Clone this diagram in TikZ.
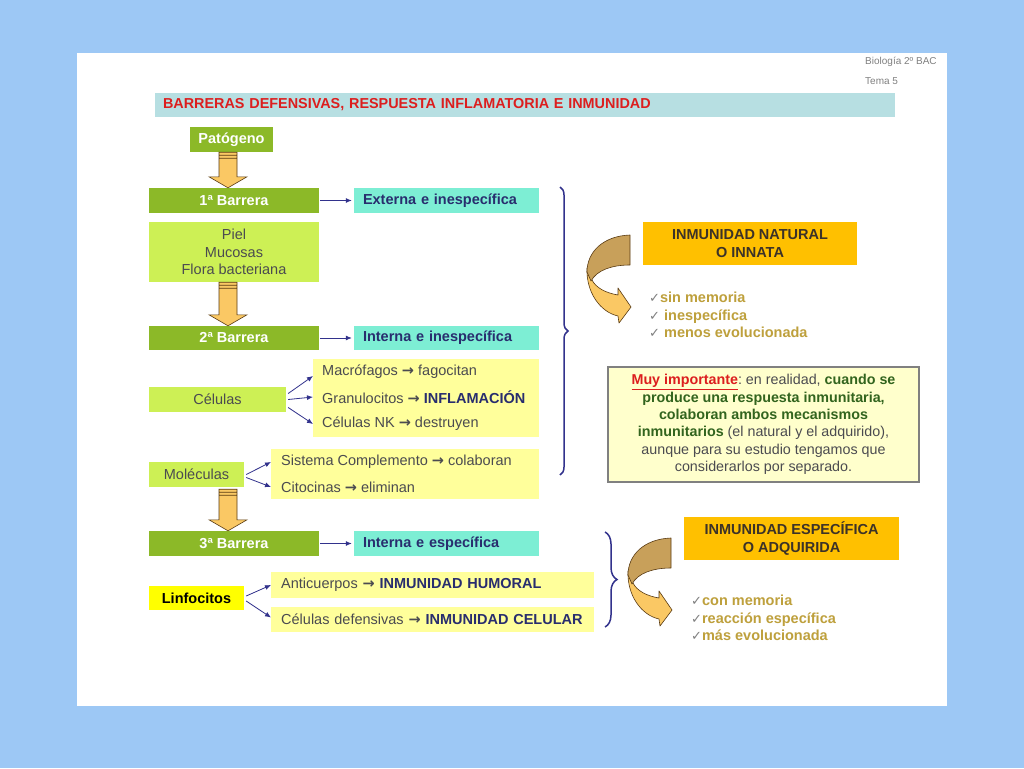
\documentclass[tikz,border=0pt]{standalone}
\usepackage{fontspec}
\setmainfont{Liberation Sans}
\newfontfamily\symfont{DejaVu Sans}
\usetikzlibrary{arrows.meta,decorations.pathreplacing,calc}

\definecolor{bgblue}{RGB}{157,200,245}
\definecolor{titlebg}{RGB}{183,223,226}
\definecolor{titlered}{RGB}{220,30,30}
\definecolor{grndark}{RGB}{140,185,40}
\definecolor{grnlight}{RGB}{205,240,85}
\definecolor{aqua}{RGB}{125,238,212}
\definecolor{navy}{RGB}{40,45,110}
\definecolor{txtgray}{RGB}{75,75,80}
\definecolor{paleyel}{RGB}{255,255,155}
\definecolor{brightyel}{RGB}{255,255,0}
\definecolor{gold}{RGB}{255,192,0}
\definecolor{chktxt}{RGB}{190,160,60}
\definecolor{connblue}{RGB}{50,50,140}
\definecolor{curllight}{RGB}{250,200,100}
\definecolor{curldark}{RGB}{200,160,90}
\definecolor{curlline}{RGB}{90,60,20}
\definecolor{notebg}{RGB}{255,255,204}
\definecolor{notegreen}{RGB}{50,100,30}

\newcommand{\txt}{\fontsize{14.5}{17.5}\selectfont}
\newcommand{\ra}{{\symfont\bfseries →}}
\newcommand{\chk}{{\symfont\color{gray}\fontsize{13}{13}\selectfont ✓}}

% block arrow between two boxes
\newcommand{\bigarrow}[2]{%
  \draw[bigarrowstyle] let \p1=(#1), \p2=(#2) in
    (\x1-9pt,\y1) -- (\x1+9pt,\y1) -- (\x1+9pt,\y2+11pt) -- (\x1+19pt,\y2+11pt)
    -- (\x1,\y2) -- (\x1-19pt,\y2+11pt) -- (\x1-9pt,\y2+11pt) -- cycle
    (\x1-9pt,\y1-3pt) -- (\x1+9pt,\y1-3pt)
    (\x1-9pt,\y1-6pt) -- (\x1+9pt,\y1-6pt);
}

\begin{document}
\begin{tikzpicture}[x=1pt,y=-1pt,
    box/.style={inner sep=0pt, minimum height=25, font=\txt, text=txtgray},
    barrier/.style={box, fill=grndark, text=white, font=\txt\bfseries, minimum width=170},
    kind/.style={box, fill=aqua, text=navy, font=\txt\bfseries, text width=167, inner xsep=9, align=left},
    light/.style={box, fill=grnlight},
    yelbox/.style={box, fill=paleyel},
    item/.style={anchor=west, inner xsep=9, inner ysep=0, font=\txt, text=txtgray},
    gold box/.style={box, fill=gold, minimum width=214, minimum height=43, align=center, font=\txt\bfseries, text={rgb,255:red,60;green,50;blue,40}},
    checks/.style={anchor=base west, inner sep=0, font=\txt\bfseries, text=chktxt},
    conn/.style={draw=connblue, line width=0.8, -{Latex[length=6,width=5]}},
    bigarrowstyle/.style={fill=curllight, draw=curlline, line width=0.6},
    curl/.style={draw=curlline, line width=0.6, line join=round},
    bracestyle/.style={draw=connblue, line width=1.5, decorate},
  ]
  \useasboundingbox (0,0) rectangle (1024,768);
  \fill[bgblue] (0,0) rectangle (1024,768);
  \fill[white] (77,53) rectangle (947,706);

  % header
  \node[anchor=west, inner sep=0, font=\fontsize{10}{11}\selectfont, text=gray] (bio) at (865,62) {Biología 2º BAC};
  \node[anchor=west, inner sep=0, font=\fontsize{10}{11}\selectfont, text=gray] (tema) at (865,81) {Tema 5};
  \node[box, fill=titlebg, text=titlered, font=\fontsize{14.4}{17}\selectfont\bfseries, minimum height=24, text width=724, inner xsep=8, align=left] (title) at (525,105) {BARRERAS DEFENSIVAS, RESPUESTA INFLAMATORIA E INMUNIDAD};

  % left column
  \node[barrier, minimum width=83] (pat) at (231.5,139.5) {Patógeno};
  \node[barrier] (b1) at (234,200.5) {1ª Barrera};
  \node[kind] (ext) at (446.5,200.5) {Externa e inespecífica};
  \node[light, minimum width=170, minimum height=60, align=center] (piel) at (234,252) {Piel\\Mucosas\\Flora bacteriana};
  \node[barrier, minimum height=24] (b2) at (234,338) {2ª Barrera};
  \node[kind, minimum height=24] (int1) at (446.5,338) {Interna e inespecífica};

  \node[yelbox, minimum width=226, minimum height=78] (celgroup) at (426,398) {};
  \node[light, minimum width=137] (cel) at (217.5,399.5) {Células};
  \node[item] (mac) at (313,372) {Macrófagos \ra\ fagocitan};
  \node[item] (gran) at (313,397) {Granulocitos \ra\ \textbf{\color{navy}INFLAMACIÓN}};
  \node[item] (nk) at (313,424) {Células NK \ra\ destruyen};

  \node[yelbox, minimum width=268, minimum height=50] (molgroup) at (405,474) {};
  \node[light, minimum width=95] (mol) at (196.5,474.5) {Moléculas};
  \node[item, inner xsep=10] (compl) at (271,462) {Sistema Complemento \ra\ colaboran};
  \node[item, inner xsep=10] (cito) at (271,487) {Citocinas \ra\ eliminan};

  \node[barrier] (b3) at (234,543.5) {3ª Barrera};
  \node[kind] (int2) at (446.5,543.5) {Interna e específica};
  \node[box, fill=brightyel, text=black, font=\txt\bfseries, minimum width=95, minimum height=24] (linf) at (196.5,598) {Linfocitos};
  \node[yelbox, anchor=west, text width=303, inner xsep=10, align=left, minimum height=26] (anti) at (271,585) {Anticuerpos \ra\ \textbf{\color{navy}INMUNIDAD HUMORAL}};
  \node[yelbox, anchor=west, text width=303, inner xsep=10, align=left] (celdef) at (271,619.5) {Células defensivas \ra\ \textbf{\color{navy}INMUNIDAD CELULAR}};

  % block arrows
  \bigarrow{[xshift=-3.5pt]pat.south}{b1.north}
  \bigarrow{[xshift=-6pt]piel.south}{b2.north}
  \bigarrow{[xshift=31.5pt,yshift=-2pt]mol.south}{b3.north}

  % connectors
  \draw[conn] ([xshift=1pt]b1.east) -- ([xshift=-2pt]ext.west);
  \draw[conn] ([xshift=1pt]b2.east) -- ([xshift=-2pt]int1.west);
  \draw[conn] ([xshift=1pt]b3.east) -- ([xshift=-2pt]int2.west);
  \draw[conn] ([xshift=2pt,yshift=6pt]cel.east) -- ([yshift=-4pt]mac.west);
  \draw[conn] ([xshift=2pt]cel.east) -- (gran.west);
  \draw[conn] ([xshift=2pt,yshift=-8pt]cel.east) -- (nk.west);
  \draw[conn] ([xshift=2pt]mol.east) -- (compl.west);
  \draw[conn] ([xshift=2pt,yshift=-3pt]mol.east) -- (cito.west);
  \draw[conn] ([xshift=2pt,yshift=2pt]linf.east) -- (anti.west);
  \draw[conn] ([xshift=2pt,yshift=-3pt]linf.east) -- ([yshift=2pt]celdef.west);

  % braces
  \draw[bracestyle, decoration={brace, amplitude=8}] (560,187) -- (560,475);
  \draw[bracestyle, decoration={brace, amplitude=12}] (605,532) -- (605,627);

  % curled arrows
  \foreach \dx/\dy in {0/0, 41/303} {
    \begin{scope}[shift={(\dx,\dy)}]
      \filldraw[curl, fill=curllight] (587,268) .. controls (586,292) and (600,312) .. (618,316)
        -- (619,323) -- (631,307) -- (618,288) -- (618,295)
        .. controls (606,293) and (596,288) .. (592,280) -- cycle;
      \filldraw[curl, fill=curldark] (630,235) .. controls (603,236) and (587,252) .. (587,272)
        -- (591,281) .. controls (597,270) and (612,265) .. (630,265) -- cycle;
    \end{scope}
  }

  % right column
  \node[gold box] (nat) at (750,243.5) {INMUNIDAD NATURAL\\O INNATA};
  \foreach \t [count=\i] in {\chk sin memoria, \chk\ inespecífica, \chk\ menos evolucionada}
    \node[checks] (natchk\i) at (649,285+17.5*\i) {\t};

  \node[box, fill=notebg, draw=gray, line width=1.2, minimum width=311, minimum height=115, align=center, font=\fontsize{14.3}{17.4}\selectfont] (imp) at (763.5,424.5)
    {{\color{titlered}\bfseries\underline{Muy importante}}:\ en realidad, {\color{notegreen}\bfseries cuando se}\\
     {\color{notegreen}\bfseries produce una respuesta inmunitaria,}\\
     {\color{notegreen}\bfseries colaboran ambos mecanismos}\\
     {\color{notegreen}\bfseries inmunitarios}\ (el natural y el adquirido),\\
     aunque para su estudio tengamos que\\
     considerarlos por separado.};

  \node[gold box, minimum width=215] (esp) at (791.5,538.5) {INMUNIDAD ESPECÍFICA\\O ADQUIRIDA};
  \foreach \t [count=\i] in {\chk con memoria, \chk reacción específica, \chk más evolucionada}
    \node[checks] (espchk\i) at (691,588+17.5*\i) {\t};
\end{tikzpicture}
\end{document}
